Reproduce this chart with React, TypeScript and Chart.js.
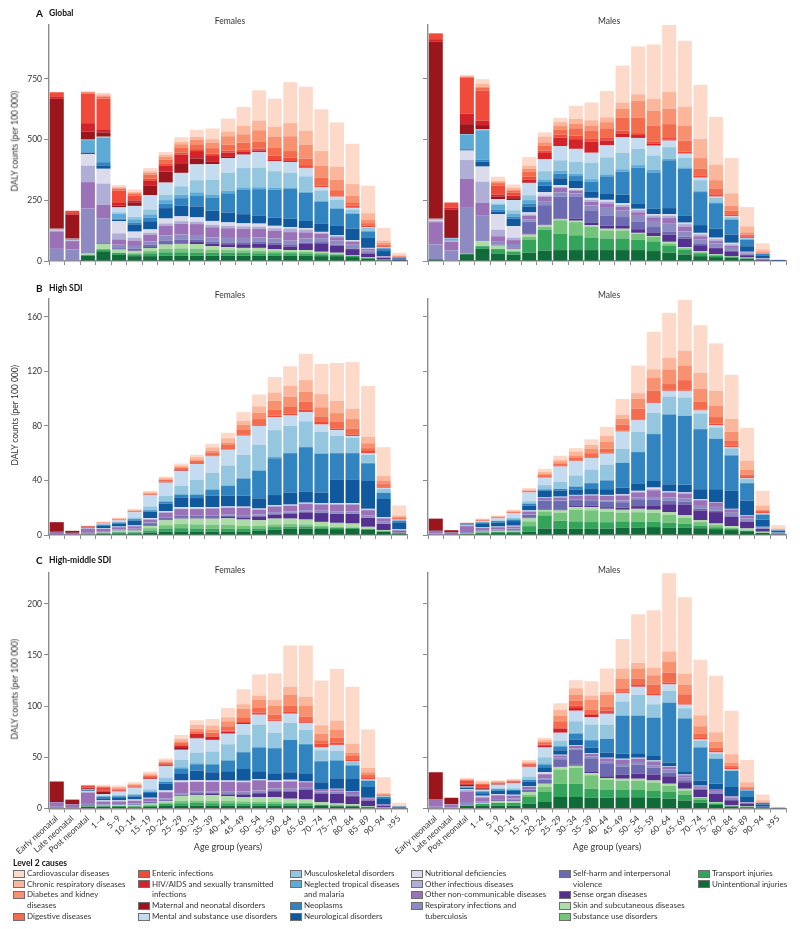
import React, { useEffect, useRef } from 'react';
import { Chart, registerables } from 'chart.js';
Chart.register(...registerables);

const FONT = 'Lato, "Open Sans", "DejaVu Sans", sans-serif';
const AXIS = '#8c8c8c';
const TXT = '#333333';

const AGES = ['Early neonatal', 'Late neonatal', 'Post neonatal', '1–4', '5–9', '10–14', '15–19', '20–24', '25–29', '30–34', '35–39', '40–44', '45–49', '50–54', '55–59', '60–64', '65–69', '70–74', '75–79', '80–84', '85–89', '90–94', '≥95'];

// y tick labels per row
const TICKS_A = [0, 250, 500, 750];
const TICKS_B = [0, 40, 80, 120, 160];
const TICKS_C = [0, 50, 100, 150, 200];

// causes, stacked bottom -> top
const CAUSE_KEYS = ['UI', 'TI', 'SU', 'SK', 'SO', 'SH', 'RI', 'ONCD', 'OI', 'ND', 'NE', 'NP', 'NTD', 'MSK', 'MEN', 'MAT', 'HIV', 'ENT', 'DIG', 'DIA', 'CRD', 'CVD'];
const CAUSE_NAMES: Record<string, string> = {
  UI: 'Unintentional injuries', TI: 'Transport injuries', SU: 'Substance use disorders', SK: 'Skin and subcutaneous diseases',
  SO: 'Sense organ diseases', SH: 'Self-harm and interpersonal violence', RI: 'Respiratory infections and tuberculosis',
  ONCD: 'Other non-communicable diseases', OI: 'Other infectious diseases', ND: 'Nutritional deficiencies',
  NE: 'Neurological disorders', NP: 'Neoplasms', NTD: 'Neglected tropical diseases and malaria', MSK: 'Musculoskeletal disorders',
  MEN: 'Mental and substance use disorders', MAT: 'Maternal and neonatal disorders', HIV: 'HIV/AIDS and sexually transmitted infections',
  ENT: 'Enteric infections', DIG: 'Digestive diseases', DIA: 'Diabetes and kidney diseases', CRD: 'Chronic respiratory diseases', CVD: 'Cardiovascular diseases',
};
const COLORS: Record<string, string> = {
  UI: '#0f6b37', TI: '#34a45b', SU: '#74c47c', SK: '#aedca6', SO: '#55318f', SH: '#6c6ab0', RI: '#8e8bc3', ONCD: '#9b71b8',
  OI: '#afaed6', ND: '#dcdbec', NE: '#10599f', NP: '#3184c0', NTD: '#5eaad6', MSK: '#95c6df', MEN: '#c5dbef', MAT: '#9a161c',
  HIV: '#d2222a', ENT: '#ef4a3a', DIG: '#f46c4e', DIA: '#f8916f', CRD: '#fbb69c', CVD: '#fdd9ca',
};

// ---------- A Global, Females ----------
const glbF_UI = [0, 0, 22, 40, 25, 20, 20, 22, 22, 22, 22, 22, 22, 22, 22, 22, 22, 20, 20, 16, 10, 3, 1];
const glbF_TI = [0, 0, 3, 8, 8, 8, 12, 14, 14, 13, 12, 12, 12, 10, 10, 10, 9, 8, 6, 5, 3, 1, 0];
const glbF_SU = [0, 0, 0, 2, 2, 4, 10, 14, 16, 16, 13, 11, 10, 10, 8, 6, 7, 5, 4, 2, 2, 0, 0];
const glbF_SK = [0, 0, 6, 20, 12, 10, 12, 18, 19, 19, 14, 12, 10, 12, 8, 7, 7, 5, 4, 1, 1, 1, 0];
const glbF_SO = [0, 0, 1, 1, 2, 3, 4, 5, 6, 8, 10, 12, 15, 17, 20, 15, 25, 35, 30, 25, 15, 8, 2];
const glbF_SH = [0, 0, 1, 3, 4, 5, 10, 10, 10, 9, 8, 8, 8, 8, 7, 6, 5, 5, 4, 3, 2, 1, 0];
const glbF_RI = [50, 48, 183, 102, 14, 12, 13, 22, 22, 20, 18, 18, 18, 18, 18, 18, 18, 16, 16, 15, 10, 3, 1];
const glbF_ONCD = [72, 34, 109, 55, 22, 22, 27, 40, 45, 45, 42, 40, 38, 35, 32, 35, 25, 18, 14, 12, 7, 2, 1];
const glbF_OI = [4, 3, 68, 88, 25, 12, 8, 10, 10, 10, 10, 10, 10, 10, 10, 15, 12, 5, 5, 4, 2, 0, 0];
const glbF_ND = [3, 1, 48, 61, 50, 25, 14, 20, 20, 18, 16, 14, 12, 12, 10, 6, 5, 3, 3, 3, 2, 1, 0];
const glbF_NE = [1, 1, 5, 14, 6, 30, 34, 43, 45, 45, 42, 40, 38, 34, 34, 34, 30, 35, 41, 47, 41, 21, 6];
const glbF_NP = [1, 1, 2, 13, 5, 6, 14, 18, 30, 45, 55, 80, 100, 108, 115, 123, 116, 90, 68, 61, 27, 11, 4];
const glbF_NTD = [1, 3, 50, 102, 20, 15, 14, 15, 14, 13, 12, 10, 10, 8, 8, 6, 4, 4, 3, 3, 2, 1, 0];
const glbF_MSK = [0, 0, 1, 1, 6, 10, 20, 22, 35, 50, 60, 75, 80, 81, 68, 61, 64, 42, 35, 15, 12, 3, 1];
const glbF_MEN = [1, 1, 1, 2, 20, 45, 60, 50, 55, 65, 65, 60, 55, 63, 41, 44, 33, 13, 12, 7, 3, 1, 0];
const glbF_MAT = [535, 99, 34, 18, 8, 15, 40, 45, 40, 25, 12, 5, 2, 0, 0, 0, 0, 0, 0, 0, 0, 0, 0];
const glbF_HIV = [8, 6, 34, 13, 10, 8, 18, 24, 35, 30, 25, 18, 12, 8, 5, 4, 3, 1, 0, 0, 0, 0, 0];
const glbF_ENT = [19, 10, 122, 126, 52, 20, 9, 8, 8, 8, 7, 7, 7, 7, 18, 13, 10, 5, 6, 9, 8, 4, 1];
const glbF_DIG = [1, 0, 5, 8, 7, 6, 17, 18, 20, 20, 22, 25, 28, 28, 32, 28, 27, 34, 21, 14, 9, 6, 2];
const glbF_DIA = [0, 0, 1, 3, 3, 4, 8, 12, 15, 18, 22, 35, 35, 48, 47, 61, 58, 48, 43, 27, 14, 8, 2];
const glbF_CRD = [0, 0, 2, 7, 4, 5, 6, 8, 10, 12, 15, 20, 35, 40, 41, 54, 57, 61, 54, 48, 27, 9, 3];
const glbF_CVD = [0, 0, 2, 6, 8, 10, 13, 11, 19, 29, 44, 53, 78, 124, 115, 169, 181, 172, 182, 166, 113, 52, 10];

// ---------- A Global, Males ----------
const glbM_UI = [7, 0, 28, 50, 31, 26, 34, 43, 45, 45, 45, 45, 45, 45, 41, 34, 27, 20, 16, 14, 9, 2, 0];
const glbM_TI = [0, 0, 3, 11, 18, 12, 55, 85, 68, 61, 52, 48, 48, 42, 40, 30, 20, 12, 7, 4, 2, 0, 0];
const glbM_SU = [0, 0, 0, 2, 2, 3, 10, 12, 55, 54, 45, 33, 33, 25, 18, 8, 6, 4, 3, 1, 1, 0, 0];
const glbM_SK = [0, 0, 2, 19, 12, 9, 10, 7, 6, 6, 5, 7, 7, 4, 4, 7, 4, 4, 2, 1, 2, 0, 0];
const glbM_SO = [0, 0, 0, 0, 1, 2, 3, 3, 6, 8, 10, 12, 14, 15, 15, 30, 35, 25, 25, 20, 10, 4, 1];
const glbM_SH = [0, 0, 0, 3, 4, 4, 50, 80, 85, 90, 52, 43, 34, 30, 22, 13, 8, 5, 3, 2, 1, 0, 0];
const glbM_RI = [61, 44, 186, 104, 14, 14, 10, 14, 18, 14, 20, 31, 28, 25, 25, 34, 22, 18, 16, 12, 6, 2, 0];
const glbM_ONCD = [92, 35, 119, 50, 20, 16, 15, 20, 19, 12, 15, 18, 14, 15, 15, 21, 20, 14, 10, 8, 4, 1, 0];
const glbM_OI = [6, 3, 78, 88, 27, 10, 5, 6, 3, 4, 8, 8, 8, 10, 8, 10, 10, 8, 8, 7, 2, 1, 0];
const glbM_ND = [4, 2, 39, 62, 64, 48, 8, 14, 8, 6, 8, 7, 8, 4, 5, 6, 6, 6, 6, 6, 1, 1, 0];
const glbM_NE = [1, 3, 4, 20, 10, 30, 25, 27, 28, 30, 27, 27, 34, 20, 22, 25, 30, 32, 37, 34, 23, 10, 2];
const glbM_NP = [1, 1, 5, 8, 8, 8, 12, 15, 19, 20, 40, 70, 95, 150, 150, 197, 193, 136, 105, 61, 27, 8, 1];
const glbM_NTD = [1, 5, 58, 122, 20, 12, 14, 10, 11, 10, 10, 8, 10, 10, 10, 6, 5, 4, 4, 3, 2, 0, 0];
const glbM_MSK = [0, 0, 0, 1, 6, 15, 20, 34, 44, 48, 68, 70, 68, 67, 60, 48, 40, 45, 18, 8, 4, 1, 0];
const glbM_MEN = [1, 2, 1, 2, 18, 42, 50, 50, 58, 54, 41, 50, 65, 45, 40, 27, 16, 10, 5, 3, 1, 0, 0];
const glbM_MAT = [730, 116, 41, 18, 10, 8, 2, 0, 0, 0, 0, 0, 0, 0, 0, 0, 0, 0, 0, 0, 0, 0, 0];
const glbM_HIV = [10, 8, 44, 18, 8, 10, 12, 25, 35, 40, 45, 20, 15, 12, 8, 4, 2, 1, 0, 0, 0, 0, 0];
const glbM_ENT = [24, 22, 147, 125, 38, 12, 12, 10, 12, 15, 12, 10, 11, 8, 10, 10, 7, 9, 10, 6, 7, 2, 0];
const glbM_DIG = [0, 0, 4, 10, 10, 10, 22, 20, 22, 30, 35, 40, 54, 64, 65, 54, 45, 28, 24, 17, 7, 3, 0];
const glbM_DIA = [0, 0, 1, 4, 4, 4, 10, 14, 14, 18, 20, 25, 37, 68, 60, 64, 61, 43, 34, 21, 9, 3, 0];
const glbM_CRD = [0, 0, 3, 14, 6, 8, 14, 24, 16, 20, 22, 20, 25, 28, 50, 68, 79, 79, 64, 51, 25, 10, 1];
const glbM_CVD = [0, 0, 4, 18, 16, 12, 35, 17, 18, 54, 73, 108, 152, 197, 224, 276, 272, 223, 197, 145, 79, 25, 2];

// ---------- B High SDI, Females ----------
const hiF_UI = [0, 0, 0.4, 1, 1.2, 1.2, 1.7, 2.4, 2.6, 2.6, 2.5, 2.6, 2.6, 3, 4, 4.5, 4.7, 4.5, 4.3, 4.5, 4, 2.5, 1.2];
const hiF_TI = [0, 0, 0.1, 0.5, 0.8, 0.8, 1.5, 2.4, 2.4, 2.2, 2.1, 2, 1.8, 1.8, 1.8, 1.7, 1.6, 1.2, 0.9, 0.7, 0.4, 0.2, 0.1];
const hiF_SU = [0, 0, 0, 0, 0.2, 0.4, 1.8, 2.4, 3, 3, 3, 3, 2.4, 2, 2, 1.8, 1.5, 1, 0.7, 0.4, 0.2, 0.1, 0];
const hiF_SK = [0, 0, 0.1, 0.3, 1, 0.8, 1.7, 3.6, 4, 4.2, 4.4, 4.6, 4.5, 4, 4.2, 4, 3.5, 2.9, 3, 2.8, 1.4, 0.8, 0.4];
const hiF_SO = [0, 0, 0, 0.1, 0.2, 0.3, 0.5, 0.6, 0.6, 0.8, 0.9, 1, 1.5, 2.5, 3, 3.6, 5.3, 6.5, 6.5, 7, 6.5, 4.5, 1];
const hiF_SH = [0, 0, 0.2, 0.2, 0.3, 0.6, 1.5, 1.2, 1.4, 1.2, 1.1, 1, 1, 0.9, 0.8, 0.7, 0.6, 0.5, 0.4, 0.3, 0.2, 0.1, 0];
const hiF_RI = [0.5, 0.3, 0.8, 0.8, 0.5, 0.5, 0.6, 0.6, 0.6, 0.6, 0.6, 0.7, 0.8, 0.8, 1, 1, 1, 1.2, 1.3, 1.5, 1.5, 1.5, 0.5];
const hiF_ONCD = [1.7, 1.2, 3, 1.5, 1.5, 1.8, 2, 3.2, 4.4, 4.4, 4.8, 5, 5.2, 3.5, 4, 4, 4.5, 4.5, 5, 5, 4, 2.5, 0.6];
const hiF_OI = [0, 0, 0.3, 0.4, 0.3, 0.3, 0.4, 0.3, 0.4, 0.4, 0.4, 0.4, 0.4, 0.4, 0.5, 0.5, 0.5, 0.5, 0.6, 0.6, 0.5, 0.5, 0.2];
const hiF_ND = [0, 0, 0.1, 0.2, 0.2, 0.3, 0.6, 0.7, 1, 1, 0.6, 0.6, 0.6, 0.5, 0.5, 0.5, 0.5, 0.5, 0.6, 0.5, 0.5, 0.5, 0.3];
const hiF_NE = [0.2, 0.1, 0.4, 1.8, 2, 3.6, 4.8, 5.6, 7.2, 6.7, 8.4, 8, 8, 7.5, 7.5, 8.9, 8.3, 7.9, 17.5, 17.5, 20.4, 13.2, 5];
const hiF_NP = [0, 0, 0.2, 0.8, 1, 1, 1, 1.5, 2, 2.5, 4.4, 7.2, 12.6, 20.2, 27, 28.8, 32.4, 28.3, 19.2, 19.2, 13, 4.6, 1.2];
const hiF_NTD = [0, 0, 0.1, 0.1, 0.1, 0.1, 0.5, 0.3, 0.4, 0.4, 0.4, 0.4, 0.5, 0.5, 0.9, 0.5, 0.5, 0.5, 0.5, 0.5, 0.3, 0.2, 0.1];
const hiF_MSK = [0, 0, 0, 0.1, 0.4, 1.2, 2.4, 3.8, 6, 10.4, 12, 14.5, 16.8, 18.7, 19.7, 19.5, 18.5, 15.7, 12.3, 10.9, 6, 2.5, 0.7];
const hiF_MEN = [0, 0, 0.1, 0.6, 1, 3.8, 8.2, 9.8, 10.8, 11.7, 12.1, 11.5, 14.1, 13.7, 9.6, 7.7, 6.7, 5.3, 4.1, 1.2, 1.2, 0.9, 0];
const hiF_MAT = [7, 1.4, 0.2, 0, 0, 0, 0.1, 0.3, 0.4, 0.3, 0.2, 0.1, 0, 0, 0, 0, 0, 0, 0, 0, 0, 0, 0];
const hiF_HIV = [0, 0, 0, 0, 0, 0, 0.1, 0.3, 0.2, 0.1, 0.1, 0.1, 0.1, 0.1, 0, 0, 0, 0, 0, 0, 0, 0, 0];
const hiF_ENT = [0, 0.1, 0.4, 0.3, 0.3, 0.2, 0.2, 0.2, 0.2, 0.2, 0.2, 0.3, 0.5, 0.6, 1.2, 1.2, 1.7, 1.9, 1.2, 1.2, 1.5, 0.7, 0.3];
const hiF_DIG = [0, 0, 0.2, 0.4, 0.5, 0.6, 0.8, 1.2, 1.5, 1.8, 2.4, 3, 3.6, 4.3, 4.3, 5.5, 6, 4.1, 4.8, 4.3, 2.1, 2, 0.8];
const hiF_DIA = [0, 0, 0, 0.1, 0.2, 0.3, 0.3, 0.5, 0.7, 0.9, 1.3, 1.8, 3.7, 4.6, 6.5, 7, 7.2, 6.7, 6.5, 7, 3.6, 2.3, 0.8];
const hiF_CRD = [0, 0, 0.1, 0.4, 0.6, 0.8, 0.7, 0.9, 1.2, 1.7, 2.4, 3.2, 3.1, 4.8, 6, 7.9, 8.6, 9.6, 9.1, 7.6, 4.8, 3.6, 1.2];
const hiF_CVD = [0.2, 0, 0.2, 0.2, 0.4, 0.6, 0.9, 1, 1.4, 1.8, 2.5, 4, 6.3, 8.6, 11.3, 14.4, 19.3, 22.1, 27.6, 34.1, 37.2, 21.2, 7.2];

// ---------- B High SDI, Males ----------
const hiM_UI = [0, 0, 0.6, 1.3, 1.4, 1.4, 2.5, 4.8, 4.5, 4.5, 4.5, 4.6, 5.5, 5.5, 5.8, 5.5, 5.5, 5, 4.3, 3.6, 2.8, 1.5, 0.4];
const hiM_TI = [0, 0, 0.1, 0.6, 0.9, 0.9, 4, 9.6, 6, 5.5, 5, 4.8, 4.5, 4.2, 4, 3.5, 2.8, 2, 1.4, 0.8, 0.3, 0.1, 0];
const hiM_SU = [0, 0, 0, 0, 0.2, 0.3, 3.5, 2.9, 6, 8.4, 8.6, 7.5, 6.5, 7, 6.5, 5.8, 4.2, 2.5, 1.6, 0.8, 0.3, 0.1, 0];
const hiM_SK = [0, 0, 0.1, 0.4, 0.6, 0.5, 2.2, 1.2, 1.5, 2, 2.3, 2.3, 2, 2.5, 2.2, 2, 1.9, 1.3, 1.1, 1.3, 1.4, 0.7, 0.1];
const hiM_SO = [0, 0, 0, 0.1, 0.2, 0.3, 0.5, 0.6, 0.7, 0.8, 1, 1.2, 1.5, 2, 2.8, 5.8, 8, 7.2, 8.4, 6.7, 5, 2, 0.5];
const hiM_SH = [0, 0, 0.2, 0.2, 0.4, 0.9, 2, 6, 6.2, 4.4, 3.5, 4, 4, 5, 4.5, 2.5, 2, 1.4, 1, 0.6, 0.3, 0.1, 0];
const hiM_RI = [1, 0.5, 1.2, 0.9, 0.5, 0.5, 0.5, 0.5, 0.6, 0.7, 0.8, 1, 1.3, 1.5, 2, 2.5, 2.3, 2.6, 2.8, 2.5, 2, 0.8, 0.3];
const hiM_ONCD = [1.9, 1.3, 4.3, 1.6, 1.5, 1.4, 2, 1.5, 2, 2.5, 3.3, 3.2, 3.5, 3.5, 5, 3.5, 3.5, 3.5, 3, 2.5, 1.8, 0.5, 0.2];
const hiM_OI = [0, 0, 0.4, 0.4, 0.3, 0.3, 0.3, 0.3, 0.3, 0.3, 0.3, 0.4, 0.5, 0.6, 0.8, 0.5, 0.5, 0.5, 0.4, 0.4, 0.3, 0.1, 0];
const hiM_ND = [0, 0, 0.2, 0.2, 0.2, 0.3, 0.5, 0.2, 0.3, 0.3, 0.3, 0.4, 0.5, 0.6, 1.2, 0.4, 0.5, 0.4, 0, 0, 0.2, 0.1, 0.2];
const hiM_NE = [0.2, 0.1, 0.5, 2.4, 2.8, 3.4, 3.6, 4.8, 4.3, 4, 4.1, 4.2, 5, 5.5, 4.8, 5.2, 5.6, 7.2, 9.6, 13.2, 10.8, 5.3, 1.2];
const hiM_NP = [0, 0, 0.2, 1.2, 1.2, 1.2, 1.2, 1, 1.4, 2, 4.3, 6.4, 18, 22.9, 34.4, 51.2, 50.4, 44, 36.8, 26, 12.8, 3.6, 0.5];
const hiM_NTD = [0, 0, 0.1, 0.1, 0.1, 0.1, 0.5, 0.2, 0.3, 0.4, 0.4, 0.4, 0.5, 0.5, 0.5, 0.5, 0.5, 0.5, 0.5, 0.5, 0.4, 0.2, 0];
const hiM_MSK = [0, 0, 0, 0.1, 0.5, 1, 1.5, 3, 5, 7.9, 9.6, 11.3, 10, 14.4, 15.1, 12.7, 13.2, 11, 8, 4.7, 2.8, 0.8, 0.2];
const hiM_MEN = [0, 0, 0.1, 0.8, 1.4, 3.6, 6.4, 5.4, 11.1, 10.4, 8.5, 7.9, 12.5, 8.4, 7.2, 4.1, 4.8, 2.2, 1.6, 0.8, 0.4, 0.2, 0];
const hiM_MAT = [8.9, 1.6, 0.3, 0, 0, 0, 0, 0, 0, 0, 0, 0, 0, 0, 0, 0, 0, 0, 0, 0, 0, 0, 0];
const hiM_HIV = [0, 0, 0, 0, 0, 0, 0.1, 0.2, 0.3, 0.3, 0.2, 0.2, 0.2, 0.2, 0.1, 0.1, 0.1, 0, 0, 0, 0, 0, 0];
const hiM_ENT = [0, 0.1, 0.4, 0.3, 0.3, 0.2, 0.1, 0.2, 0.2, 0.3, 0.4, 0.5, 0.6, 0.5, 0.5, 0.6, 0.6, 0.7, 1.2, 1.2, 0.9, 0.7, 0.1];
const hiM_DIG = [0, 0, 0.2, 0.4, 0.5, 0.6, 0.8, 1.5, 1.8, 1.8, 2.9, 2.9, 4.5, 7.9, 8.5, 4.3, 7.2, 5.8, 4.8, 3.4, 1.9, 0.8, 0.2];
const hiM_DIA = [0, 0, 0, 0.1, 0.2, 0.3, 0.4, 0.8, 1, 1.9, 3.1, 5.3, 4.3, 7.2, 9.6, 10.8, 10.8, 9.6, 8.4, 6.7, 3.6, 0.9, 0.3];
const hiM_CRD = [0, 0, 0.1, 0.6, 0.7, 0.8, 0.8, 1.5, 1.7, 2.9, 2.9, 4.3, 2.9, 4.1, 6, 8.4, 10.8, 11.5, 10.8, 9.6, 6.5, 3.1, 0.6];
const hiM_CVD = [0, 0, 0.1, 0.3, 0.3, 0.5, 1, 2.3, 2.9, 2.4, 4.1, 6.5, 11.4, 20.2, 27.5, 33, 37.1, 34.9, 34.8, 32.2, 24.1, 10.8, 2.4];

// ---------- C High-middle SDI, Females ----------
const hmF_UI = [0, 0, 1.8, 1.8, 1.4, 1.3, 1.5, 2.4, 2.6, 2.7, 2.7, 2.7, 2.7, 2.7, 2.7, 2.7, 2.8, 2.4, 2.2, 2.2, 1.3, 0.6, 0.2];
const hmF_TI = [0, 0, 0.3, 0.8, 1, 1, 1.5, 2.2, 2.6, 2.6, 2.5, 2.4, 2.2, 2.1, 2, 1.8, 1.5, 1, 0.8, 0.6, 0.3, 0.1, 0];
const hmF_SU = [0, 0, 0, 0, 0.1, 0.2, 0.8, 1.3, 2.3, 2.5, 2.4, 2.2, 2, 1.8, 1.6, 1.3, 1, 0.6, 0.4, 0.2, 0.1, 0, 0];
const hmF_SK = [0, 0, 0.1, 0.3, 0.7, 0.7, 1, 1.5, 4.4, 5.1, 5.3, 4.6, 4.4, 4.7, 5, 3.8, 3.4, 2.4, 1.4, 1.2, 0.6, 0.2, 0];
const hmF_SO = [0, 0, 0, 0.1, 0.2, 0.3, 0.4, 0.4, 0.6, 1, 1.3, 1.8, 2.5, 3.5, 5.5, 6.8, 9.6, 8.1, 9.7, 7.7, 5.6, 1.8, 0.3];
const hmF_SH = [0, 0, 0.1, 0.2, 0.3, 0.6, 1.2, 1, 1.2, 1.2, 1.2, 1.2, 1.2, 1.1, 1, 0.9, 0.8, 0.6, 0.5, 0.3, 0.1, 0, 0];
const hmF_RI = [1.8, 1.4, 3, 1, 0.8, 0.8, 0.8, 1, 0.8, 1.2, 1.4, 1.5, 1.6, 1.8, 1.8, 2, 2, 1.5, 1.7, 2, 1.5, 0.6, 0.1];
const hmF_ONCD = [4.2, 2.5, 10, 2.5, 2.4, 2.6, 2.3, 6, 11.2, 9.5, 9, 9.5, 9, 10, 6.2, 7, 4.5, 1.5, 2.2, 2, 1, 0.5, 0.1];
const hmF_OI = [0.2, 0.1, 1.2, 0.8, 0.6, 0.4, 0.4, 0.6, 0.4, 0.5, 0.5, 0.5, 0.5, 0.5, 0.5, 0.6, 0.5, 0.2, 0.3, 0.4, 0.1, 0.1, 0];
const hmF_ND = [0, 0, 0.6, 0.6, 0.6, 0.8, 0.7, 1.3, 1.2, 1.6, 1, 0.9, 0.9, 0.7, 1, 1.1, 0.3, 0, 0.1, 0.1, 0, 0, 0];
const hmF_NE = [0.2, 0.2, 0.6, 1.8, 2.2, 3, 4.5, 6.4, 7.1, 9.1, 8.1, 9, 11.6, 7.4, 7.1, 7.4, 7.4, 7.4, 10.3, 12.2, 10.3, 5.5, 1];
const hmF_NP = [0, 0, 0.3, 1.6, 1.6, 1.2, 1.2, 1.8, 4.2, 6.3, 7.2, 10.4, 16.4, 23.2, 24.5, 31.5, 28.9, 20.4, 17.2, 13, 6.1, 1.8, 0.3];
const hmF_NTD = [0, 0, 0.4, 0.8, 0.6, 0.3, 0.6, 0.6, 1.6, 0.8, 0.8, 0.6, 0.6, 0.6, 0.6, 0.6, 0.6, 0.5, 0.5, 0.5, 0.3, 0.1, 0];
const hmF_MSK = [0, 0, 0, 0.1, 0.6, 1.2, 2, 3.8, 7.1, 10.6, 12.2, 15.4, 16.7, 21.9, 14.5, 16.1, 13.3, 10.3, 9, 3, 1.4, 0.6, 0.1];
const hmF_MEN = [0, 0, 0.2, 1.6, 3.6, 5.9, 10, 10.9, 10.2, 13.8, 11, 10.3, 10.3, 9.6, 11.2, 9, 7, 2.6, 5.8, 0.6, 0.2, 0.1, 0];
const hmF_MAT = [20, 4.4, 1.2, 2.6, 0.3, 0.2, 0.5, 0.8, 1.5, 1.2, 0.6, 0.2, 0, 0, 0, 0, 0, 0, 0, 0, 0, 0, 0];
const hmF_HIV = [0, 0, 0.5, 0.8, 0.3, 0.2, 0.6, 0.8, 2.4, 3.3, 2.6, 1.8, 1, 0.6, 0.5, 0.4, 0.3, 0.2, 0.2, 0, 0, 0, 0];
const hmF_ENT = [0, 0.1, 2, 2.6, 1.2, 0.8, 0.7, 0.6, 0.6, 0.6, 0.9, 1.2, 1, 1.7, 1.1, 1.9, 1.3, 3.6, 2, 2.2, 1.6, 0.6, 0.1];
const hmF_DIG = [0, 0, 0.4, 1, 1, 1.1, 1.5, 1.6, 2, 1.8, 3.3, 4.2, 4.5, 4.2, 4.8, 5.8, 4.8, 3.3, 4.8, 3.2, 2.2, 0.8, 0.1];
const hmF_DIA = [0, 0, 0.1, 0.2, 0.3, 0.4, 0.6, 0.8, 1.6, 2.6, 3.3, 4.8, 8.3, 8, 9, 10.3, 10.6, 6.4, 8.1, 3.3, 2.7, 0.9, 0.2];
const hmF_CRD = [0, 0, 0.2, 1, 1.2, 1.2, 1.4, 1.3, 2.6, 3.9, 3.8, 3.9, 4.5, 4.2, 5.5, 8, 8.7, 8.4, 8.7, 8.6, 4.1, 0.8, 0.2];
const hmF_CVD = [0, 0, 0.2, 1, 1.5, 1.5, 1.8, 1.8, 3.5, 4.3, 6.4, 9, 14.5, 20.6, 25.7, 40.2, 49.9, 43.7, 50.4, 55.7, 37.7, 15.4, 2.8];

// ---------- C High-middle SDI, Males ----------
const hmM_UI = [0, 0, 2.6, 3, 2.8, 2.8, 4.8, 6.4, 11.3, 11.3, 10.6, 10.5, 11, 11, 10.5, 9.6, 7.7, 5.6, 3.5, 1.9, 1.2, 0.3, 0];
const hmM_TI = [0, 0, 0.4, 1.5, 2.6, 2.5, 6.5, 9.7, 12.8, 12.9, 8.7, 7.5, 7.5, 7, 6.5, 7.1, 5.5, 3, 1.5, 0.7, 0.4, 0, 0];
const hmM_SU = [0, 0, 0, 0, 0.2, 0.4, 2.2, 5, 14.1, 15.6, 13.1, 10, 8.5, 9, 8.3, 5.5, 4.3, 1.8, 0.9, 0.3, 0.2, 0, 0];
const hmM_SK = [0, 0, 0.2, 0.8, 1.8, 1.7, 2.6, 3, 2, 2, 2, 1.9, 2, 2, 2, 1.9, 1.8, 0.9, 0.5, 0.3, 0.5, 0.2, 0];
const hmM_SO = [0, 0, 0, 0.1, 0.3, 0.4, 0.4, 0.5, 0.8, 1, 1.3, 1.7, 4, 5, 6, 7.5, 6.4, 7, 8.1, 4.8, 2.5, 0.8, 0.2];
const hmM_SH = [0, 0, 0.1, 0.3, 0.5, 1, 1.6, 3.5, 7, 14.5, 13.5, 12, 8, 9, 6.5, 3.5, 2, 1.2, 0.5, 0.3, 0.1, 0, 0];
const hmM_RI = [1.6, 1.2, 3, 1.5, 1, 0.9, 0.8, 1.4, 1.5, 1.5, 1.8, 2, 2.5, 2.5, 2.5, 3, 2.8, 1.8, 2, 2.5, 1, 0.3, 0];
const hmM_ONCD = [6.9, 2.8, 10.4, 3.5, 3.8, 2.8, 2.2, 4, 2.2, 2.5, 2.2, 3.2, 4, 3, 3.5, 2.5, 2, 1, 1, 1, 0.4, 0.2, 0];
const hmM_OI = [0.1, 0.1, 1.6, 1, 0.5, 0.4, 0.3, 0.5, 0.3, 0.3, 0.4, 0.4, 0.5, 0.5, 0.5, 0.5, 0.5, 0.2, 0.2, 0.1, 0.1, 0, 0];
const hmM_ND = [0, 0, 0.7, 0.8, 0.6, 0.6, 0.3, 1.4, 0.4, 0.5, 0.4, 0.4, 0.5, 0.5, 0.5, 0.3, 0.3, 0, 0.1, 0, 0, 0, 0];
const hmM_NE = [0.2, 0.1, 1.2, 2.5, 3.2, 3.5, 4.6, 4.8, 4.5, 5.4, 5.5, 5.1, 5, 4.5, 4.5, 3.6, 3, 4.8, 5.8, 9, 4.9, 2, 0.3];
const hmM_NP = [0, 0, 0.4, 1.4, 1.4, 1.2, 1.5, 2.5, 3.2, 5.5, 7.2, 13.2, 37, 36.5, 37.3, 58.3, 51.6, 32.3, 24.6, 15.7, 6.2, 1.5, 0.3];
const hmM_NTD = [0, 0, 0.6, 0.6, 0.4, 0.3, 0.5, 1.4, 1, 1, 0.8, 0.6, 0.5, 0.5, 0.5, 0.6, 0.5, 0.5, 0.5, 0.4, 0.2, 0, 0];
const hmM_MSK = [0, 0, 0, 0.1, 0.6, 1.3, 3, 5.9, 4.8, 11.2, 14.5, 13.5, 13.5, 19.9, 12.8, 10.9, 9.6, 6.4, 4.5, 1.4, 0.5, 0.2, 0];
const hmM_MEN = [0, 0, 0.2, 1.2, 3.6, 5, 9.5, 9.5, 8.1, 10.3, 7.4, 10.6, 8, 8.1, 8.4, 6.4, 3.3, 1, 1, 0.2, 0.1, 0, 0];
const hmM_MAT = [26.6, 6.3, 1.8, 1.4, 0.3, 0.2, 0.1, 0, 0, 0, 0, 0, 0, 0, 0, 0, 0, 0, 0, 0, 0, 0, 0];
const hmM_HIV = [0, 0, 1.2, 0.8, 0.3, 0.3, 0.8, 2.2, 4.2, 3.5, 2.2, 1.5, 0.8, 0.6, 0.4, 0.3, 0.2, 0.1, 0, 0, 0, 0, 0];
const hmM_ENT = [0, 0.1, 2.8, 2.5, 0.8, 0.6, 0.7, 0.8, 1.2, 1.5, 1.5, 1.3, 0.8, 1, 1.8, 1.7, 1.4, 1.5, 1.6, 1.6, 0.9, 0.3, 0];
const hmM_DIG = [0, 0, 0.8, 1, 0.8, 1, 1.6, 2.2, 5.8, 5, 3.4, 4.3, 3.3, 6.4, 8.7, 9.6, 8.7, 3.9, 3.2, 1.6, 0.8, 0.3, 0];
const hmM_DIA = [0, 0, 0.1, 0.2, 0.3, 0.4, 0.6, 0.8, 5.6, 5.8, 9.6, 11.2, 9.6, 9.7, 9, 10.9, 9, 7.4, 5.8, 3.2, 0.9, 0.3, 0];
const hmM_CRD = [0, 0, 1, 1.6, 1, 1, 1.2, 1.6, 5.7, 6.1, 4.2, 3.2, 9.7, 5.4, 7.1, 9.7, 11.2, 10.6, 9.3, 8.1, 4.8, 1.6, 0.2];
const hmM_CVD = [0, 0, 0.8, 1.5, 0.5, 0.6, 1.5, 2, 6.4, 8, 14.1, 22.6, 28.9, 47.6, 56.3, 76.5, 74.6, 54.3, 55, 42.4, 21.6, 5.8, 0.6];

// y-axis maximum per row
const ROW_A_MAX = 972;
const ROW_B_MAX = 173;
const ROW_C_MAX = 230;

const glbF = [glbF_UI, glbF_TI, glbF_SU, glbF_SK, glbF_SO, glbF_SH, glbF_RI, glbF_ONCD, glbF_OI, glbF_ND, glbF_NE, glbF_NP, glbF_NTD, glbF_MSK, glbF_MEN, glbF_MAT, glbF_HIV, glbF_ENT, glbF_DIG, glbF_DIA, glbF_CRD, glbF_CVD];
const glbM = [glbM_UI, glbM_TI, glbM_SU, glbM_SK, glbM_SO, glbM_SH, glbM_RI, glbM_ONCD, glbM_OI, glbM_ND, glbM_NE, glbM_NP, glbM_NTD, glbM_MSK, glbM_MEN, glbM_MAT, glbM_HIV, glbM_ENT, glbM_DIG, glbM_DIA, glbM_CRD, glbM_CVD];
const hiF = [hiF_UI, hiF_TI, hiF_SU, hiF_SK, hiF_SO, hiF_SH, hiF_RI, hiF_ONCD, hiF_OI, hiF_ND, hiF_NE, hiF_NP, hiF_NTD, hiF_MSK, hiF_MEN, hiF_MAT, hiF_HIV, hiF_ENT, hiF_DIG, hiF_DIA, hiF_CRD, hiF_CVD];
const hiM = [hiM_UI, hiM_TI, hiM_SU, hiM_SK, hiM_SO, hiM_SH, hiM_RI, hiM_ONCD, hiM_OI, hiM_ND, hiM_NE, hiM_NP, hiM_NTD, hiM_MSK, hiM_MEN, hiM_MAT, hiM_HIV, hiM_ENT, hiM_DIG, hiM_DIA, hiM_CRD, hiM_CVD];
const hmF = [hmF_UI, hmF_TI, hmF_SU, hmF_SK, hmF_SO, hmF_SH, hmF_RI, hmF_ONCD, hmF_OI, hmF_ND, hmF_NE, hmF_NP, hmF_NTD, hmF_MSK, hmF_MEN, hmF_MAT, hmF_HIV, hmF_ENT, hmF_DIG, hmF_DIA, hmF_CRD, hmF_CVD];
const hmM = [hmM_UI, hmM_TI, hmM_SU, hmM_SK, hmM_SO, hmM_SH, hmM_RI, hmM_ONCD, hmM_OI, hmM_ND, hmM_NE, hmM_NP, hmM_NTD, hmM_MSK, hmM_MEN, hmM_MAT, hmM_HIV, hmM_ENT, hmM_DIG, hmM_DIA, hmM_CRD, hmM_CVD];

interface PanelProps {
  rows: number[][]; left: number; top: number; width: number; chartTop: number; chartBottom: number;
  yAxisW: number; padRight: number; xAxisH: number; max: number; ticks: number[]; showY: boolean; showX: boolean;
}

function BarPanel(p: PanelProps) {
  const ref = useRef<HTMLCanvasElement | null>(null);
  const height = Math.ceil(p.chartBottom - p.top + p.xAxisH);
  useEffect(() => {
    const el = ref.current;
    if (!el) return;
    const padTop = p.chartTop - p.top;
    const padBottom = height - (p.chartBottom - p.top) - p.xAxisH;
    const chart = new Chart(el, {
      type: 'bar',
      data: {
        labels: AGES,
        datasets: CAUSE_KEYS.map((k, i) => ({
          label: CAUSE_NAMES[k],
          data: p.rows[i],
          backgroundColor: COLORS[k],
          borderWidth: 0,
          barPercentage: 0.9,
          categoryPercentage: 1,
        })),
      },
      options: {
        animation: false,
        responsive: false,
        maintainAspectRatio: false,
        layout: { padding: { top: padTop, right: p.padRight, left: 0, bottom: padBottom } },
        plugins: { legend: { display: false }, tooltip: { enabled: false } },
        scales: {
          x: {
            stacked: true,
            offset: true,
            grid: { display: true, offset: true, drawOnChartArea: false, drawTicks: true, tickLength: 4, tickColor: AXIS, lineWidth: 1 },
            border: { display: true, color: AXIS, width: 1.4 },
            ticks: {
              display: p.showX, autoSkip: false, maxRotation: 42, minRotation: 42,
              font: { family: FONT, size: 8.5 }, color: TXT, padding: 1,
            },
            afterFit: (s: any) => { s.height = p.xAxisH; },
          },
          y: {
            stacked: true,
            min: 0,
            max: p.max,
            grid: { display: true, drawOnChartArea: false, drawTicks: true, tickLength: 5, tickColor: AXIS, lineWidth: 1 },
            border: { display: true, color: AXIS, width: 1.4 },
            ticks: {
              padding: 2,
              color: p.showY ? TXT : 'rgba(0,0,0,0)',
              font: { family: FONT, size: 8.5 },
            },
            afterBuildTicks: (s: any) => { s.ticks = p.ticks.map((v) => ({ value: v })); },
            afterFit: (s: any) => { s.width = p.yAxisW; },
          },
        },
      } as any,
    });
    return () => chart.destroy();
  }, []);
  return (
    <canvas
      ref={ref}
      width={p.width}
      height={height}
      style={{ position: 'absolute', left: p.left, top: p.top, width: p.width, height }}
    />
  );
}

const txt = (size: number, bold = false): React.CSSProperties => ({
  position: 'absolute', fontFamily: FONT, fontSize: size, fontWeight: bold ? 700 : 400, color: bold ? '#111' : TXT,
  lineHeight: `${size}px`, whiteSpace: 'nowrap',
});

const LEGEND_COLS: { x: number; items: [string, string[]][] }[] = [
  { x: 13, items: [['CVD', ['Cardiovascular diseases']], ['CRD', ['Chronic respiratory diseases']], ['DIA', ['Diabetes and kidney', 'diseases']], ['DIG', ['Digestive diseases']]] },
  { x: 138, items: [['ENT', ['Enteric infections']], ['HIV', ['HIV/AIDS and sexually transmitted', 'infections']], ['MAT', ['Maternal and neonatal disorders']], ['MEN', ['Mental and substance use disorders']]] },
  { x: 290, items: [['MSK', ['Musculoskeletal disorders']], ['NTD', ['Neglected tropical diseases', 'and malaria']], ['NP', ['Neoplasms']], ['NE', ['Neurological disorders']]] },
  { x: 411, items: [['ND', ['Nutritional deficiencies']], ['OI', ['Other infectious diseases']], ['ONCD', ['Other non-communicable diseases']], ['RI', ['Respiratory infections and', 'tuberculosis']]] },
  { x: 559, items: [['SH', ['Self-harm and interpersonal', 'violence']], ['SO', ['Sense organ diseases']], ['SK', ['Skin and subcutaneous diseases']], ['SU', ['Substance use disorders']]] },
  { x: 698, items: [['TI', ['Transport injuries']], ['UI', ['Unintentional injuries']]] },
];

function Legend() {
  const y0 = 873;
  const dy = 10.75;
  const out: React.ReactNode[] = [];
  LEGEND_COLS.forEach((col, ci) => {
    let line = 0;
    col.items.forEach(([k, lines]) => {
      const cy = y0 + line * dy;
      out.push(
        <div key={`sw${ci}${k}`} style={{ position: 'absolute', left: col.x, top: cy - 3.5, width: 10, height: 6, background: COLORS[k], border: '1px solid #6f6f6f' }} />
      );
      lines.forEach((t, li) => {
        out.push(
          <div key={`t${ci}${k}${li}`} style={{ ...txt(8), left: col.x + 14, top: cy + li * dy - 4.2 }}>{t}</div>
        );
      });
      line += lines.length;
    });
  });
  return <>{out}</>;
}

export default function App() {
  const rowsY = [
    { chartTop: 261 - ROW_A_MAX * (239.4 / 972), chartBottom: 261, max: ROW_A_MAX, ticks: TICKS_A, f: glbF, m: glbM, letter: 'A', name: 'Global', labelY: 13, titleY: 21, xAxisH: 8 },
    { chartTop: 535 - ROW_B_MAX * 1.3856, chartBottom: 535, max: ROW_B_MAX, ticks: TICKS_B, f: hiF, m: hiM, letter: 'B', name: 'High SDI', labelY: 288, titleY: 295.5, xAxisH: 8 },
    { chartTop: 808.5 - ROW_C_MAX * 1.0375, chartBottom: 808.5, max: ROW_C_MAX, ticks: TICKS_C, f: hmF, m: hmM, letter: 'C', name: 'High-middle SDI', labelY: 560.7, titleY: 570, xAxisH: 50 },
  ];
  return (
    <div style={{ position: 'absolute', left: 0, top: 0, width: 800, height: 929, background: '#fff', overflow: 'hidden' }}>
      {rowsY.map((r, ri) => {
        const top = Math.floor(r.chartTop) - 3;
        const showX = ri === 2;
        return (
          <React.Fragment key={ri}>
            <BarPanel rows={r.f} left={0} top={top} width={408} chartTop={r.chartTop} chartBottom={r.chartBottom}
              yAxisW={49} padRight={1} xAxisH={r.xAxisH} max={r.max} ticks={r.ticks} showY={true} showX={showX} />
            <BarPanel rows={r.m} left={380} top={top} width={408} chartTop={r.chartTop} chartBottom={r.chartBottom}
              yAxisW={48} padRight={2} xAxisH={r.xAxisH} max={r.max} ticks={r.ticks} showY={false} showX={showX} />
            <div style={{ ...txt(10, true), left: 36, top: r.labelY - 5.5 }}>{r.letter}</div>
            <div style={{ ...txt(8.5, true), left: 49, top: r.labelY - 4.5 }}>{r.name}</div>
            <div style={{ ...txt(8.5), left: 230 - 50, width: 100, textAlign: 'center', top: r.titleY - 4.5 }}>Females</div>
            <div style={{ ...txt(8.5), left: 609 - 50, width: 100, textAlign: 'center', top: r.titleY - 4.5 }}>Males</div>
            <div style={{
              ...txt(8.5), left: 15 - 80, width: 160, textAlign: 'center',
              top: (r.chartTop + r.chartBottom) / 2 - 4.5, transform: 'rotate(-90deg)', transformOrigin: '50% 50%',
            }}>DALY counts (per 100 000)</div>
          </React.Fragment>
        );
      })}
      <div style={{ ...txt(9), left: 228 - 60, width: 120, textAlign: 'center', top: 847 - 5 }}>Age group (years)</div>
      <div style={{ ...txt(9), left: 607 - 60, width: 120, textAlign: 'center', top: 847 - 5 }}>Age group (years)</div>
      <div style={{ ...txt(8.5, true), left: 13, top: 863 - 4.5 }}>Level 2 causes</div>
      <Legend />
    </div>
  );
}
